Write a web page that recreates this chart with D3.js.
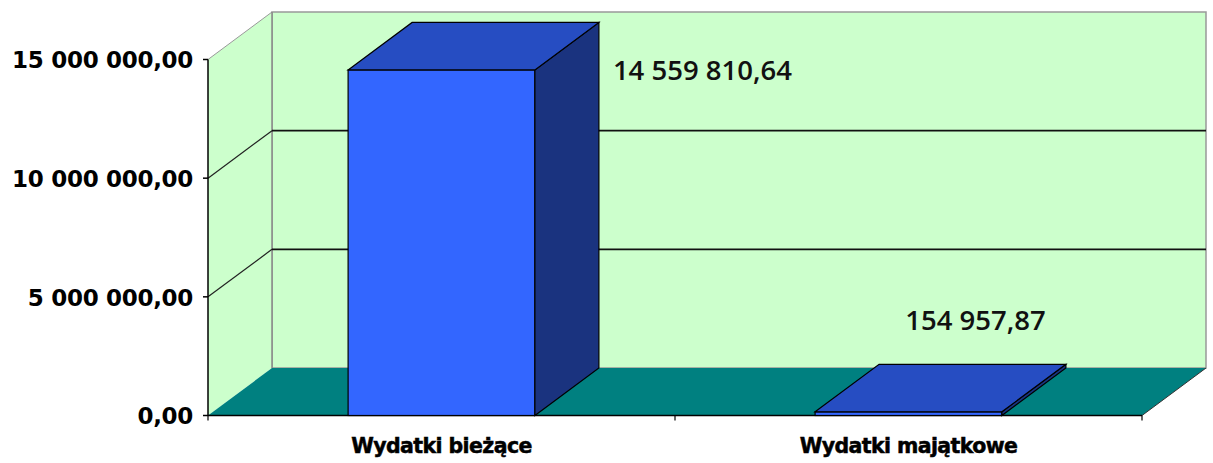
<!DOCTYPE html>
<meta charset="utf-8">
<style>
  body { margin: 0; background: #fff; }
  svg { display: block; }
</style>
<body>
<div id="chart"></div>
<script src="https://d3js.org/d3.v7.min.js"></script>
<script>
// data
var categories = ["Wydatki bieżące", "Wydatki majątkowe"];
var values = [14559810.64, 154957.87];
var valueLabels = ["14 559 810,64", "154 957,87"];
var yTicks = [0, 5000000, 10000000, 15000000];
var yTickLabels = ["0,00", "5 000 000,00", "10 000 000,00", "15 000 000,00"];

var width = 1213, height = 463;

// 3d depth offset
var dx = 64, dy = -47.5;

var x = d3.scaleBand().domain(categories).range([208, 1142])
    .paddingInner(0.6).paddingOuter(0.3);
var y = d3.scaleLinear().domain([0, 15000000]).range([415.5, 59.5]);

var svg = d3.select("#chart").append("svg")
    .attr("width", width)
    .attr("height", height);

var x0 = x.range()[0], x1 = x.range()[1];
var yTop = y(15000000), yBot = y(0);

function pts(a) { return a.map(function(p) { return p.join(","); }).join(" "); }

// back wall
svg.append("rect")
    .attr("x", x0 + dx).attr("y", yTop + dy)
    .attr("width", x1 - x0).attr("height", yBot - yTop)
    .style("fill", "#ccffcc")
    .style("stroke", "#999")
    .style("stroke-width", 1.5);

// side wall
svg.append("polygon")
    .attr("points", pts([[x0, yTop], [x0 + dx, yTop + dy], [x0 + dx, yBot + dy], [x0, yBot]]))
    .style("fill", "#ccffcc");

// floor
svg.append("polygon")
    .attr("points", pts([[x0, yBot], [x0 + dx, yBot + dy], [x1 + dx, yBot + dy], [x1, yBot]]))
    .style("fill", "#008080");
svg.append("line")
    .attr("x1", x1).attr("y1", yBot).attr("x2", x1 + dx).attr("y2", yBot + dy)
    .style("stroke", "#333").style("stroke-width", 1);

// top edge of side wall
svg.append("line")
    .attr("x1", x0).attr("y1", yTop).attr("x2", x0 + dx).attr("y2", yTop + dy)
    .style("stroke", "#999").style("stroke-width", 1);
svg.append("line")
    .attr("x1", x0 + dx).attr("y1", yTop + dy).attr("x2", x0 + dx).attr("y2", yBot + dy)
    .style("stroke", "#888").style("stroke-width", 1.5);

// gridlines
var grid = yTicks.filter(function(d) { return d > 0 && d < 15000000; });
svg.selectAll(".gdiag")
    .data(grid)
  .enter().append("line")
    .attr("x1", x0).attr("y1", function(d) { return y(d); })
    .attr("x2", x0 + dx).attr("y2", function(d) { return y(d) + dy; })
    .style("stroke", "#222").style("stroke-width", 1.2);
svg.selectAll(".gback")
    .data(grid)
  .enter().append("line")
    .attr("x1", x0 + dx).attr("y1", function(d) { return y(d) + dy; })
    .attr("x2", x1 + dx).attr("y2", function(d) { return y(d) + dy; })
    .style("stroke", "#111").style("stroke-width", 1.6);

// y axis
svg.append("line")
    .attr("x1", x0).attr("y1", yTop).attr("x2", x0).attr("y2", yBot)
    .style("stroke", "#000").style("stroke-width", 1.5);
svg.selectAll(".ytick")
    .data(yTicks)
  .enter().append("line")
    .attr("x1", x0 - 5).attr("x2", x0)
    .attr("y1", function(d) { return y(d); })
    .attr("y2", function(d) { return y(d); })
    .style("stroke", "#000").style("stroke-width", 1.5);
svg.selectAll(".ylab")
    .data(yTicks)
  .enter().append("text")
    .attr("x", x0 - 15)
    .attr("y", function(d) { return y(d); })
    .attr("dy", "0.38em")
    .style("text-anchor", "end")
    .style("font-family", "'DejaVu Sans', sans-serif")
    .style("font-weight", "bold")
    .style("font-size", "23px")
    .style("letter-spacing", "-0.3px")
    .text(function(d, i) { return yTickLabels[i]; });

// x axis
svg.append("line")
    .attr("x1", x0).attr("y1", yBot).attr("x2", x1).attr("y2", yBot)
    .style("stroke", "#000").style("stroke-width", 1.5);
var step = x.step();
svg.selectAll(".xtick")
    .data([x0, x0 + step, x1])
  .enter().append("line")
    .attr("x1", function(d) { return d; }).attr("x2", function(d) { return d; })
    .attr("y1", yBot).attr("y2", yBot + 5)
    .style("stroke", "#000").style("stroke-width", 1.2);

svg.selectAll(".xlab")
    .data(categories)
  .enter().append("text")
    .attr("x", function(d) { return x(d) + x.bandwidth() / 2; })
    .attr("y", 453)
    .style("text-anchor", "middle")
    .style("font-family", "'DejaVu Sans', sans-serif")
    .style("font-weight", "bold")
    .style("font-size", "20.5px")
    .style("letter-spacing", "-0.6px")
    .style("stroke", "#000")
    .style("stroke-width", 0.5)
    .text(function(d) { return d; });

// bars
var bars = svg.selectAll(".bar")
    .data(values)
  .enter().append("g")
    .attr("class", "bar");

bars.each(function(v, i) {
  var g = d3.select(this);
  var bx = x(categories[i]), bw = x.bandwidth();
  var by = y(v);
  // front
  g.append("rect")
      .attr("x", bx).attr("y", by)
      .attr("width", bw).attr("height", yBot - by)
      .style("fill", "#3366ff")
      .style("stroke", "#000").style("stroke-width", 1.2);
  // side
  g.append("polygon")
      .attr("points", pts([[bx + bw, by], [bx + bw + dx, by + dy], [bx + bw + dx, yBot + dy], [bx + bw, yBot]]))
      .style("fill", "#1a337f")
      .style("stroke", "#000").style("stroke-width", 1.2);
  // top
  g.append("polygon")
      .attr("points", pts([[bx, by], [bx + dx, by + dy], [bx + bw + dx, by + dy], [bx + bw, by]]))
      .style("fill", "#264dc2")
      .style("stroke", "#000").style("stroke-width", 1.2);
});

// value labels
svg.selectAll(".vlab")
    .data(values)
  .enter().append("text")
    .each(function(v, i) {
      var t = d3.select(this);
      var bx = x(categories[i]), bw = x.bandwidth();
      var base = y(v) + dy - 34;
      if (base - 22 < yTop + dy) {
        t.attr("x", bx + bw + dx + 14).attr("y", y(v) + 10)
         .style("text-anchor", "start");
      } else {
        t.attr("x", bx + bw / 2 + dx + 3).attr("y", base)
         .style("text-anchor", "middle");
      }
    })
    .style("font-family", "'Open Sans', sans-serif")
    .style("font-weight", "600")
    .style("font-size", "27.5px")
    .style("fill", "#111")
    .text(function(d, i) { return valueLabels[i]; });
</script>
</body>
